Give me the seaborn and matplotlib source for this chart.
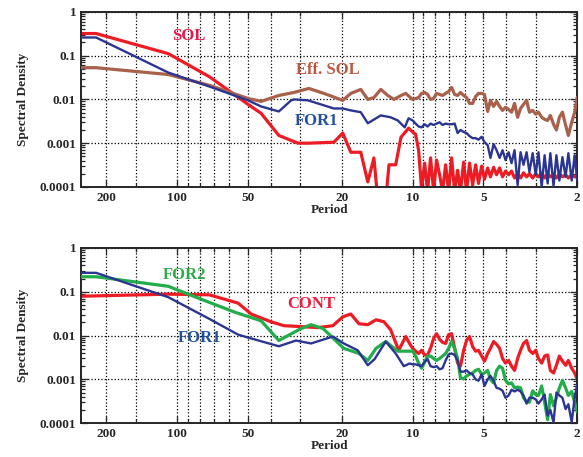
import pandas as pd
import matplotlib
matplotlib.use('Agg')
import matplotlib.pyplot as plt
import seaborn as sns
from matplotlib.ticker import LogLocator, NullFormatter

# shared high-frequency period grid (period 10 -> 2)
hf_period = [10, 9.71, 9.43, 9.16, 8.89, 8.64, 8.39, 8.14, 7.91, 7.68,
             7.46, 7.24, 7.03, 6.83, 6.63, 6.44, 6.26, 6.07, 5.9, 5.73,
             5.56, 5.4, 5.25, 5.09, 4.95, 4.8, 4.67, 4.53, 4.4, 4.27,
             4.15, 4.03, 3.91, 3.8, 3.69, 3.58, 3.48, 3.38, 3.28, 3.19,
             3.09, 3.0, 2.92, 2.83, 2.75, 2.67, 2.6, 2.52, 2.45, 2.38,
             2.31, 2.24, 2.18, 2.11, 2.05, 2.0]

# ---- top panel ----
sol_period = [256, 221, 109, 73, 50, 44, 37, 30.7, 27.6, 21.6, 19.8, 18.3, 16.6,
              15.5, 14.6, 14.05, 13.0, 12.6, 11.8, 11.2, 10.4]
sol_low = [0.32, 0.32, 0.111, 0.033, 0.0077, 0.0048, 0.0015, 0.001, 0.001, 0.00105,
           0.0017, 0.00062, 0.00062, 0.00013, 0.00046, 5e-5, 5e-5, 3.2e-4, 3.2e-4,
           0.00137, 0.0022]
sol_high = [0.0018, 0.0016, 6.9e-4, 9e-5, 3.5e-4, 8e-5, 4.6e-4, 8e-5, 4.1e-4, 1.9e-4,
            8e-5, 3.2e-4, 8e-5, 4.6e-4, 8e-5, 2.4e-4, 8e-5, 3.7e-4, 8e-5, 3.5e-4,
            1.1e-4, 3.2e-4, 1.2e-4, 3.0e-4, 1.5e-4, 2.7e-4, 1.7e-4, 2.8e-4, 1.9e-4, 2.7e-4,
            1.7e-4, 2.3e-4, 1.9e-4, 2.3e-4, 1.6e-4, 2.0e-4, 1.6e-4, 2.1e-4, 1.7e-4, 2.0e-4,
            1.6e-4, 2.0e-4, 1.7e-4, 2.1e-4, 1.6e-4, 2.0e-4, 1.7e-4, 1.9e-4, 1.6e-4, 2.0e-4,
            1.7e-4, 1.9e-4, 1.6e-4, 1.9e-4, 1.7e-4, 1.7e-4]

for1a_period = [256, 221, 109, 73, 50, 44, 37, 32.8, 31.9, 27.8, 21.6, 19.8, 18.3,
                16.6, 15.5, 13.65, 12.4, 11.56, 10.8, 10.4]
for1a_low = [0.26, 0.26, 0.041, 0.0197, 0.0095, 0.0069, 0.0053, 0.0095, 0.01, 0.0095,
             0.0062, 0.0062, 0.0056, 0.0051, 0.00285, 0.0043, 0.0039, 0.0033, 0.0023, 0.0037]
for1a_high = [3.3e-3, 2.8e-3, 2.4e-3, 2.3e-3, 2.7e-3, 2.4e-3, 2.8e-3, 2.6e-3, 2.8e-3, 3.0e-3,
              2.6e-3, 2.8e-3, 2.7e-3, 2.7e-3, 2.8e-3, 1.7e-3, 2.0e-3, 1.8e-3, 1.7e-3, 1.45e-3,
              1.3e-3, 1.3e-3, 1.2e-3, 1.4e-3, 1.05e-3, 9e-4, 4.6e-4, 9.5e-4, 6.9e-4, 4.6e-4,
              6.9e-4, 4.1e-4, 6.2e-4, 3.5e-4, 6.9e-4, 1.1e-4, 6.2e-4, 3.2e-4, 6.2e-4, 2.2e-4,
              5.9e-4, 1.9e-4, 6.2e-4, 1.0e-4, 5.3e-4, 1.2e-4, 5.9e-4, 1.05e-4, 5.3e-4, 1.4e-4,
              4.8e-4, 1.7e-4, 5.9e-4, 1.4e-4, 5.3e-4, 1.4e-4]

eff_period = [256, 221, 109, 73, 50, 44, 37, 31.9, 27.6, 23.8, 19.8, 18.3, 16.6,
              15.5, 14.6, 13.65, 12.75, 12.0, 11.2, 10.7]
eff_low = [0.053, 0.053, 0.037, 0.021, 0.0105, 0.009, 0.0123, 0.0144, 0.0178, 0.0137,
           0.0095, 0.0137, 0.0169, 0.01, 0.011, 0.0169, 0.0123, 0.01, 0.0123, 0.0137]
eff_high = [0.01, 0.0105, 0.011, 0.0137, 0.0144, 0.013, 0.01, 0.0105, 0.0137, 0.013,
            0.0123, 0.0137, 0.0151, 0.0188, 0.013, 0.0123, 0.0144, 0.0123, 0.011, 0.0081,
            0.0081, 0.0116, 0.0137, 0.0137, 0.013, 0.0053, 0.0095, 0.0069, 0.009, 0.0069,
            0.0056, 0.0066, 0.0059, 0.0051, 0.0081, 0.0039, 0.0062, 0.0077, 0.0095, 0.0051,
            0.0056, 0.0046, 0.0051, 0.0039, 0.0035, 0.0033, 0.0043, 0.0027, 0.002, 0.0039,
            0.0051, 0.0026, 0.0015, 0.003, 0.0051, 0.011]

# ---- bottom panel ----
cont_period = [256, 109, 73, 55.1, 48.5, 40, 35.2, 29.8, 25.2, 21.8, 19.8, 18.3, 16.9,
               15.5, 14.3, 13.25, 12.4, 11.45, 10.7, 10.3]
cont_low = [0.079, 0.088, 0.085, 0.055, 0.031, 0.0207, 0.0168, 0.016, 0.0152, 0.0168,
            0.0267, 0.031, 0.0186, 0.0177, 0.0229, 0.0207, 0.0136, 0.0046, 0.0095, 0.0066]
cont_high = [0.0051, 0.0044, 0.0039, 0.0046, 0.0036, 0.0036, 0.0051, 0.0086, 0.011, 0.0082,
             0.007, 0.0066, 0.0105, 0.011, 0.0051, 0.00235, 0.002, 0.0046, 0.0077, 0.0095,
             0.0056, 0.0044, 0.0046, 0.0034, 0.0026, 0.0039, 0.0051, 0.0073, 0.0063, 0.0051,
             0.003, 0.00235, 0.0027, 0.002, 0.0016, 0.003, 0.0046, 0.0066, 0.0077, 0.0046,
             0.0039, 0.0046, 0.003, 0.00235, 0.0034, 0.0036, 0.0016, 0.0014, 0.0021, 0.0034,
             0.0026, 0.0021, 0.0027, 0.0018, 0.0014, 0.001]

for2_period = [256, 221, 109, 89.8, 57.3, 44, 37, 29.8, 27, 24, 19.6, 16.9, 15.5,
               14.3, 13.0, 11.56, 10.3]
for2_low = [0.22, 0.22, 0.133, 0.088, 0.0346, 0.0217, 0.0077, 0.0144, 0.0177, 0.0144,
            0.0051, 0.0039, 0.0027, 0.0051, 0.0073, 0.0044, 0.0044]
for2_high = [0.0044, 0.0034, 0.00235, 0.0018, 0.0025, 0.0034, 0.0034, 0.003, 0.0027, 0.003,
             0.0034, 0.0039, 0.0051, 0.0073, 0.0051, 0.003, 0.00108, 0.00103, 0.0012, 0.0013,
             0.0014, 0.0016, 0.0017, 0.0013, 0.0014, 0.0016, 0.001, 8.3e-4, 0.0016, 0.002,
             0.0018, 9.5e-4, 7.9e-4, 8.3e-4, 6.4e-4, 6.7e-4, 6.4e-4, 3.8e-4, 3.1e-4, 3.0e-4,
             5.5e-4, 4.5e-4, 4.3e-4, 7.1e-4, 3.0e-4, 1.2e-4, 4.5e-4, 2.5e-4, 3.8e-4, 6.4e-4,
             9.5e-4, 6.4e-4, 4.3e-4, 5.3e-4, 3.0e-4, 1.8e-4]

for1b_period = [256, 221, 109, 73, 55.1, 50, 37, 31.3, 27, 21.8, 19.6, 17.1, 15.5,
                14.5, 13.0, 11.8, 10.9, 10.3]
for1b_low = [0.27, 0.27, 0.075, 0.024, 0.0105, 0.009, 0.0057, 0.0077, 0.0066, 0.0095,
             0.0066, 0.0046, 0.0021, 0.0029, 0.0073, 0.0039, 0.002, 0.0023]
for1b_high = [0.0022, 0.0022, 0.0021, 0.002, 0.0025, 0.0029, 0.002, 0.0019, 0.002, 0.0017,
              0.0018, 0.0027, 0.0037, 0.0039, 0.0036, 0.0027, 0.0015, 0.0015, 0.0016, 0.0014,
              0.0013, 0.001, 9.3e-4, 0.0013, 7.1e-4, 0.001, 0.0012, 9.3e-4, 6.4e-4, 6.1e-4,
              5.5e-4, 3.8e-4, 4.3e-4, 5.8e-4, 5.3e-4, 5.8e-4, 5.3e-4, 4.3e-4, 2.8e-4, 3.8e-4,
              3.8e-4, 3.5e-4, 2.8e-4, 3.5e-4, 4.5e-4, 1.5e-4, 2.0e-4, 1.05e-4, 5.0e-4, 4.3e-4,
              3.8e-4, 2.1e-4, 2.7e-4, 1.05e-4, 3.8e-4, 7.5e-4]

x_major = [200, 100, 50, 20, 10, 5, 2]
x_minor = [150, 90, 80, 70, 60, 40, 30, 9, 8, 7, 6, 4, 3]
y_major = [1, 0.1, 0.01, 0.001, 0.0001]
y_labels = ['1', '0.1', '0.01', '0.001', '0.0001']

RED = '#ED1C24'
BLUE = '#2B3592'
BROWN = '#A8614B'
GREEN = '#22AD4A'


def make_df(name, period, low, high):
    return pd.DataFrame({'series': name,
                         'period': period + hf_period,
                         'density': low + high})


sns.set_style('ticks')
plt.rcParams['font.family'] = ['Liberation Serif', 'DejaVu Serif']
plt.rcParams['font.weight'] = 'bold'

fig = plt.figure(figsize=(5.83, 4.57), dpi=100)
ax1 = fig.add_axes([0.139, 0.591, 0.851, 0.383])
ax2 = fig.add_axes([0.139, 0.074, 0.851, 0.3835])

top = [('SOL', sol_period, sol_low, sol_high, RED, 2.3, 2),
       ('Eff. SOL', eff_period, eff_low, eff_high, BROWN, 2.3, 3),
       ('FOR1', for1a_period, for1a_low, for1a_high, BLUE, 1.7, 4)]
bottom = [('CONT', cont_period, cont_low, cont_high, RED, 2.3, 2),
          ('FOR2', for2_period, for2_low, for2_high, GREEN, 2.3, 3),
          ('FOR1', for1b_period, for1b_low, for1b_high, BLUE, 1.7, 4)]

for ax, group in [(ax1, top), (ax2, bottom)]:
    for name, per, low, high, col, lw, z in group:
        df = make_df(name, per, low, high)
        sns.lineplot(data=df, x='period', y='density', ax=ax, color=col,
                     lw=lw, zorder=z, estimator=None, sort=True, legend=False)
    ax.set_xscale('log')
    ax.set_yscale('log')
    ax.set_xlim(256, 2)
    ax.set_ylim(1e-4, 1)
    ax.set_xticks(x_major)
    ax.set_xticklabels([str(v) for v in x_major])
    ax.set_xticks(x_minor, minor=True)
    ax.xaxis.set_minor_formatter(NullFormatter())
    ax.set_yticks(y_major)
    ax.set_yticklabels(y_labels)
    ax.yaxis.set_minor_locator(LogLocator(base=10, subs=range(2, 10)))
    ax.yaxis.set_minor_formatter(NullFormatter())
    ax.grid(True, which='both', axis='x', ls=':', color='black', lw=0.9)
    ax.grid(True, which='major', axis='y', ls=':', color='black', lw=0.9)
    ax.tick_params(which='both', direction='in', top=True, right=True,
                   labelsize=9.5, width=0.9)
    ax.tick_params(which='major', length=5)
    ax.tick_params(which='minor', length=3)
    for lab in ax.get_xticklabels() + ax.get_yticklabels():
        lab.set_fontweight('bold')
    for s in ax.spines.values():
        s.set_linewidth(1.4)
    ax.set_xlabel('Period', fontsize=9.5, fontweight='bold', labelpad=0)
    ax.set_ylabel('Spectral Density', fontsize=9.5, fontweight='bold', labelpad=8)

ax1.text(89, 0.285, 'SOL', color='#E8194A', fontsize=12, fontweight='bold', ha='center', va='center')
ax1.text(22.9, 0.046, 'Eff. SOL', color='#C0573E', fontsize=12, fontweight='bold', ha='center', va='center')
ax1.text(25.7, 0.0032, 'FOR1', color='#2051A0', fontsize=12, fontweight='bold', ha='center', va='center')
ax2.text(93, 0.235, 'FOR2', color='#2EAA4A', fontsize=12, fontweight='bold', ha='center', va='center')
ax2.text(27, 0.052, 'CONT', color='#EC1C3C', fontsize=12, fontweight='bold', ha='center', va='center')
ax2.text(80, 0.0086, 'FOR1', color='#2051A0', fontsize=12, fontweight='bold', ha='center', va='center')

fig.savefig('out.png', dpi=100)
